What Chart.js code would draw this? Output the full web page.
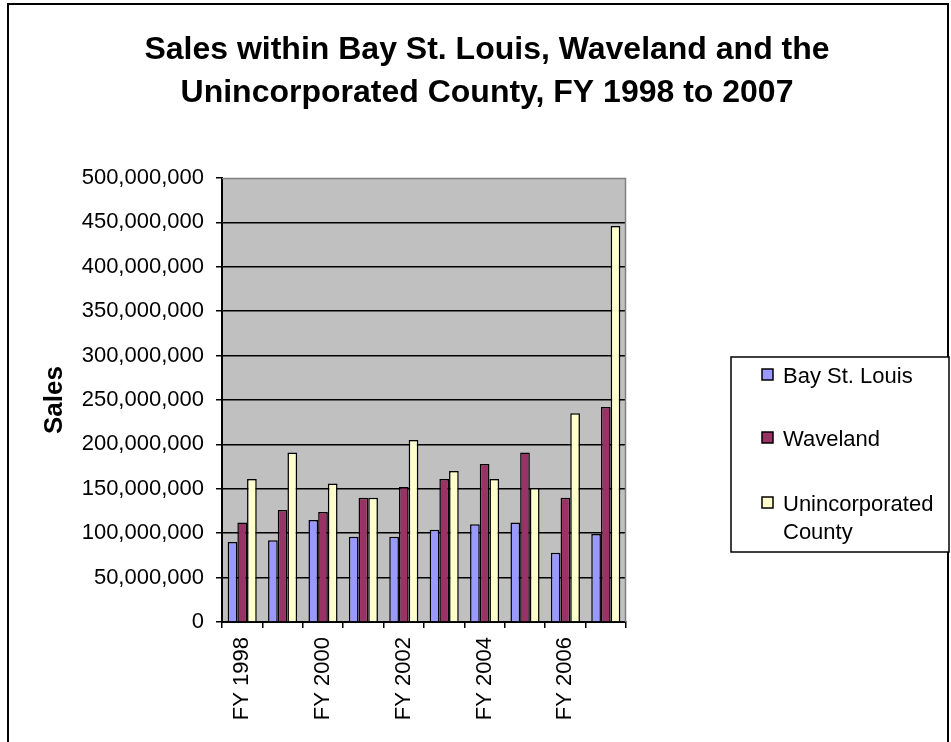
<!DOCTYPE html>
<html>
<head>
<meta charset="utf-8">
<script src="https://cdn.jsdelivr.net/npm/chart.js@4/dist/chart.umd.min.js"></script>
<style>
  html, body { margin:0; padding:0; background:#fff; }
  #wrap { position:relative; width:951px; height:742px; }
</style>
</head>
<body>
<div id="wrap"><canvas id="c" width="951" height="742"></canvas></div>
<script>
const categories = ['FY 1998','FY 1999','FY 2000','FY 2001','FY 2002','FY 2003','FY 2004','FY 2005','FY 2006','FY 2007'];
const bayStLouis = [90e6, 92e6, 115e6, 96e6, 96e6, 104e6, 110e6, 112e6, 78e6, 99e6];
const waveland = [112e6, 126e6, 124e6, 140e6, 152e6, 161e6, 178e6, 191e6, 140e6, 242e6];
const unincorporated = [161e6, 191e6, 156e6, 140e6, 205e6, 170e6, 161e6, 151e6, 235e6, 446e6];
const seriesNames = ['Bay St. Louis', 'Waveland', 'Unincorporated County'];
const titleLines = ['Sales within Bay St. Louis, Waveland and the', 'Unincorporated County, FY 1998 to 2007'];
const yTitle = 'Sales';

const FONT = '"Liberation Sans", Arial, Helvetica, sans-serif';
Chart.defaults.font.family = FONT;
Chart.defaults.color = '#000';

const colors = ['#9999FF', '#993366', '#FFFFCC'];

const decor = {
  id: 'decor',
  beforeDraw(chart) {
    const {ctx, chartArea: a} = chart;
    ctx.save();
    ctx.fillStyle = '#fff';
    ctx.fillRect(0, 0, chart.width, chart.height);
    ctx.fillStyle = '#C0C0C0';
    ctx.fillRect(a.left, a.top, a.right - a.left, a.bottom - a.top);
    ctx.restore();
  },
  afterDraw(chart) {
    const {ctx, chartArea: a} = chart;
    ctx.save();
    // plot area gray top/right border
    ctx.strokeStyle = '#808080';
    ctx.lineWidth = 1.5;
    ctx.beginPath();
    ctx.moveTo(a.left, a.top + 0.5);
    ctx.lineTo(a.right - 0.5, a.top + 0.5);
    ctx.lineTo(a.right - 0.5, a.bottom);
    ctx.stroke();

    // outer frame
    ctx.strokeStyle = '#000';
    ctx.lineWidth = 2;
    ctx.strokeRect(8, 4, 940, 760);

    // title
    ctx.fillStyle = '#000';
    ctx.font = 'bold 32px ' + FONT;
    ctx.textAlign = 'center';
    ctx.textBaseline = 'alphabetic';
    ctx.fillText(titleLines[0], 487, 59);
    ctx.fillText(titleLines[1], 487, 102);

    // legend
    ctx.lineWidth = 1.5;
    ctx.strokeStyle = '#000';
    ctx.fillStyle = '#fff';
    ctx.fillRect(731, 357, 218, 195);
    ctx.strokeRect(731, 357, 218, 195);
    const items = [
      {lines: [chart.data.datasets[0].label], y: 383},
      {lines: [chart.data.datasets[1].label], y: 446},
      {lines: ['Unincorporated', 'County'], y: 511}
    ];
    ctx.font = '22px ' + FONT;
    ctx.textAlign = 'left';
    items.forEach((it, i) => {
      ctx.fillStyle = chart.data.datasets[i].backgroundColor;
      ctx.fillRect(762, it.y - 14, 11, 11);
      ctx.lineWidth = 1.5;
      ctx.strokeStyle = '#000';
      ctx.strokeRect(762, it.y - 14, 11, 11);
      ctx.fillStyle = '#000';
      it.lines.forEach((ln, k) => ctx.fillText(ln, 783, it.y + k * 28));
    });
    ctx.restore();
  }
};

new Chart(document.getElementById('c'), {
  type: 'bar',
  data: {
    labels: categories,
    datasets: [
      {label: seriesNames[0], data: bayStLouis, backgroundColor: colors[0]},
      {label: seriesNames[1], data: waveland, backgroundColor: colors[1]},
      {label: seriesNames[2], data: unincorporated, backgroundColor: colors[2]}
    ].map(d => Object.assign(d, {borderColor: '#000', borderWidth: 1.5, categoryPercentage: 0.72, barPercentage: 1.0}))
  },
  options: {
    responsive: false,
    animation: false,
    events: [],
    layout: {padding: {left: 8, top: 178, right: 325, bottom: 0}},
    plugins: {legend: {display: false}, title: {display: false}, tooltip: {enabled: false}},
    scales: {
      x: {
        grid: {offset: true, drawOnChartArea: false, drawTicks: true, tickLength: 6, color: '#000', lineWidth: 1.5},
        border: {color: '#000', width: 2},
        ticks: {
          minRotation: 90, maxRotation: 90, autoSkip: false, padding: 9, color: '#000',
          font: {size: 22},
          callback: function(v, i) { return i % 2 === 0 ? this.getLabelForValue(v) : ''; }
        },
        afterFit(s) { s.height = 120; }
      },
      y: {
        min: 0, max: 500e6,
        ticks: {stepSize: 50e6, padding: 12, color: '#000', font: {size: 22},
          callback: v => Number(v).toLocaleString('en-US')},
        grid: {color: c => (c.tick && c.tick.value === 500e6) ? 'rgba(0,0,0,0)' : '#000', tickColor: '#000', tickLength: 6, lineWidth: 1.5},
        border: {color: '#000', width: 2},
        title: {display: true, text: yTitle, color: '#000', font: {size: 26, weight: 'bold'}, padding: {top: 31, bottom: 0}},
        afterFit(s) { s.width = 214; }
      }
    }
  },
  plugins: [decor]
});
</script>
</body>
</html>
